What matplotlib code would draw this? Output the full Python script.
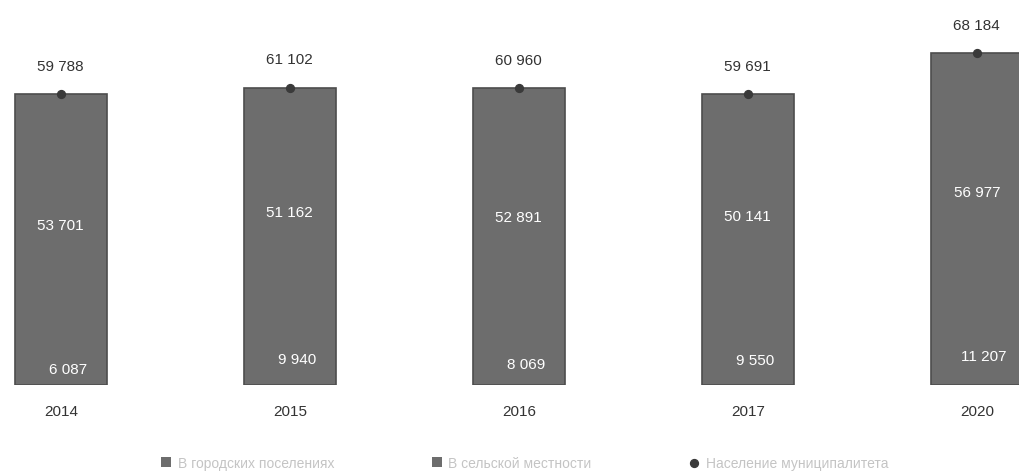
import matplotlib
matplotlib.use("Agg")
import matplotlib.pyplot as plt
import numpy as np

plt.rcParams['font.family'] = ['Liberation Sans', 'DejaVu Sans']

years = ["2014", "2015", "2016", "2017", "2020"]
rural = [6087, 9940, 8069, 9550, 11207]
urban = [53701, 51162, 52891, 50141, 56977]
total = [59788, 61102, 60960, 59691, 68184]
legend_labels = ["В городских поселениях", "В сельской местности", "Население муниципалитета"]


def fmt(v):
    return f"{v:,}".replace(",", " ")


fig = plt.figure(figsize=(10.19, 4.77), dpi=100)
ax = fig.add_axes([0, 0.191, 1, 0.809])

x = np.arange(len(years))
w = 0.40
b1 = ax.bar(x, rural, w, color="#6d6d6d", linewidth=0, label=legend_labels[0])
b2 = ax.bar(x, urban, w, bottom=rural, color="#6d6d6d", linewidth=0, label=legend_labels[1])
# outline of whole column, the two parts look like one bar in the original
ax.bar(x, total, w, fill=False, edgecolor="#4d4d4d", linewidth=1.2)
pts = ax.scatter(x, total, s=32, color="#3a3a3a", zorder=5, label=legend_labels[2])

for i in range(len(years)):
    ax.text(x[i] + 0.03, rural[i] / 2 + 300, fmt(rural[i]), ha="center", va="center", color="white", fontsize=11)
    ax.text(x[i], rural[i] + urban[i] / 2, fmt(urban[i]), ha="center", va="center", color="white", fontsize=11)
    ax.text(x[i], total[i] + 5800, fmt(total[i]), ha="center", va="center", color="#333333", fontsize=11)
    ax.text(x[i], -5300, years[i], ha="center", va="center", color="#333333", fontsize=11)

ax.set_xlim(-0.2655, 4.184)
ax.set_ylim(0, 79300)
ax.axis("off")

leg = fig.legend(handles=[b1, b2, pts], loc="center", bbox_to_anchor=(0.515, 0.028), ncol=3,
                 frameon=False, fontsize=10, handlelength=0.7, handleheight=0.7, columnspacing=7,
                 handletextpad=0.5)
for t in leg.get_texts():
    t.set_color("#c4c4c4")

fig.savefig("out.png", dpi=100)
